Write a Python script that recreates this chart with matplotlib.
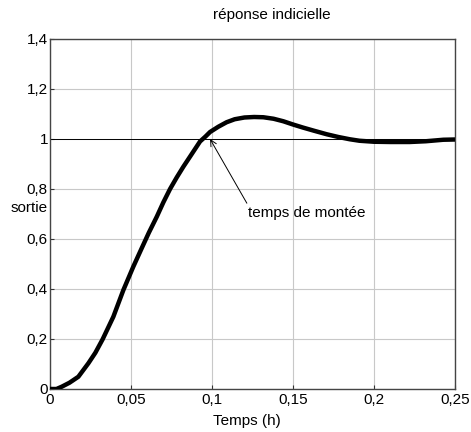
import numpy as np
import matplotlib
matplotlib.use('Agg')
import matplotlib.pyplot as plt

plt.rcParams['font.family'] = ['Liberation Sans', 'DejaVu Sans']

# réponse indicielle
temps = [0, 0.004, 0.0072, 0.0120, 0.0175, 0.0237, 0.0280, 0.0325, 0.0391, 0.0453,
         0.0514, 0.0566, 0.0610, 0.0659, 0.0700, 0.0741, 0.0782, 0.0823, 0.0870,
         0.0926, 0.0960, 0.0988, 0.1039, 0.1090, 0.1140, 0.1200, 0.1260, 0.1317,
         0.1380, 0.1440, 0.1500, 0.1560, 0.1630, 0.1708, 0.1780, 0.1850, 0.1910,
         0.2000, 0.2100, 0.2220, 0.2320, 0.2428, 0.2500]
sortie = [0, 0, 0.009, 0.025, 0.049, 0.103, 0.145, 0.199, 0.289, 0.396,
          0.489, 0.563, 0.625, 0.689, 0.747, 0.800, 0.846, 0.889, 0.935,
          0.990, 1.010, 1.028, 1.049, 1.067, 1.079, 1.086, 1.088, 1.087,
          1.081, 1.071, 1.058, 1.046, 1.033, 1.019, 1.008, 0.999, 0.993,
          0.989, 0.988, 0.988, 0.991, 0.997, 0.998]

xticks = [0, 0.05, 0.1, 0.15, 0.2, 0.25]
xlabels = ['0', '0,05', '0,1', '0,15', '0,2', '0,25']
yticks = [0, 0.2, 0.4, 0.6, 0.8, 1.0, 1.2, 1.4]
ylabels = ['0', '0,2', '0,4', '0,6', '0,8', '1', '1,2', '1,4']

fig = plt.figure(figsize=(4.71, 4.32), dpi=100)
ax = fig.add_axes([50/471, 1-389/432, 405/471, 350/432])

ax.grid(True, color='#c8c8c8', lw=0.8)
ax.set_axisbelow(True)
ax.axhline(1, color='black', lw=0.7, zorder=2)
ax.plot(temps, sortie, color='black', lw=3.2, zorder=3,
        solid_joinstyle='round', solid_capstyle='butt')

ax.set_xlim(0, 0.25)
ax.set_ylim(0, 1.4)
ax.set_xticks(xticks)
ax.set_xticklabels(xlabels)
ax.set_yticks(yticks)
ax.set_yticklabels(ylabels)
ax.tick_params(direction='in', length=3, labelsize=11, color='#333333')
ax.tick_params(axis='x', pad=3)
ax.tick_params(axis='y', pad=1.5)
for s in ax.spines.values():
    s.set_color('#444444')
    s.set_linewidth(1)

ax.annotate('temps de montée', xy=(0.0988, 1.0), xytext=(0.1225, 0.704),
            fontsize=11, va='center', ha='left',
            arrowprops=dict(arrowstyle='->', color='black', lw=0.7,
                            shrinkA=0, shrinkB=0, relpos=(0, 1)))

fig.text(272/471, 1-15/432, 'réponse indicielle', ha='center', va='center', fontsize=11)
fig.text(247/471, 1-421/432, 'Temps (h)', ha='center', va='center', fontsize=11)
fig.text(48/471, 1-208/432, 'sortie', ha='right', va='center', fontsize=11)

fig.savefig('out.png', dpi=100)
